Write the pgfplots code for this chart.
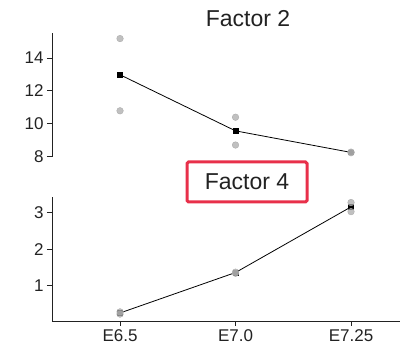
\documentclass[border=0pt]{standalone}
\usepackage{pgfplots}
\pgfplotsset{compat=1.18}
\usepackage{fontspec}
\setmainfont{Liberation Sans}
\definecolor{ptgray}{HTML}{ABABAB}
\definecolor{boxred}{HTML}{E8304A}
\definecolor{txt}{HTML}{222222}
\begin{document}
\begin{tikzpicture}
\useasboundingbox (0pt,0pt) rectangle (408pt,351pt);
\pgfplotsset{
  panel/.style={
    scale only axis, width=348pt,
    xmin=-0.589, xmax=2.424,
    tick align=outside, major tick length=5pt,
    axis line style={-, line width=0.8pt, color=txt},
    tick style={line width=0.8pt, color=txt},
    tick label style={font=\fontsize{17}{20}\selectfont, text=txt},
    /pgf/number format/assume math mode=true,
    clip=false,
  },
  pts/.style={only marks, mark=*, mark size=3.3pt, color=ptgray, mark options={draw=none, fill=ptgray, fill opacity=0.75}},
  meanline/.style={color=black, line width=0.8pt, mark=square*, mark size=2.4pt, mark options={fill=black}},
}
% Top panel: Factor 2
\begin{axis}[panel, at={(52pt,194.3pt)}, anchor=south west, height=123.4pt,
  ymin=8, ymax=15.5, ytick={8,10,12,14},
  axis x line=none, axis y line*=left]
\addplot[meanline] coordinates {(0,12.98) (1,9.57) (2,8.26)};
\addplot[pts] coordinates {(0,15.18) (0,10.79) (1,10.40) (1,8.71) (2,8.24) (2,8.28)};
\end{axis}
% Bottom panel: Factor 4
\begin{axis}[panel, at={(52pt,30pt)}, anchor=south west, height=124.3pt,
  ymin=0.03, ymax=3.44, ytick={1,2,3},
  xtick={0,1,2}, xticklabels={E6.5,E7.0,E7.25},
  axis x line*=bottom, axis y line*=left]
\addplot[meanline] coordinates {(0,0.25) (1,1.36) (2,3.16)};
\addplot[pts] coordinates {(0,0.28) (0,0.22) (1,1.37) (1,1.34) (2,3.28) (2,3.03)};
\end{axis}
\node[text=txt, font=\fontsize{23}{26}\selectfont] at (248pt,332.5pt) {Factor 2};
\draw[boxred, line width=3pt, rounded corners=1.5pt] (187pt,149pt) rectangle (307pt,189pt);
\node[text=txt, font=\fontsize{23}{26}\selectfont] at (247pt,169.3pt) {Factor 4};
\end{tikzpicture}
\end{document}
